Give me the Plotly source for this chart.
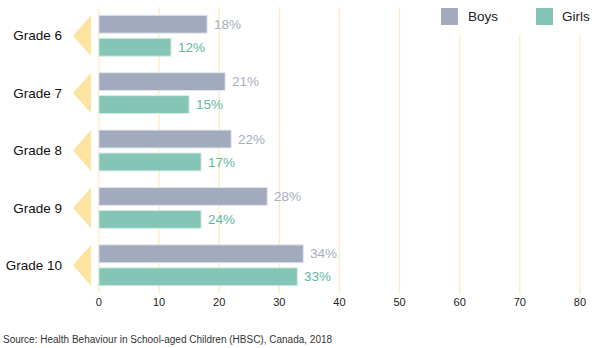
import plotly.graph_objects as go

grades = ["Grade 6", "Grade 7", "Grade 8", "Grade 9", "Grade 10"]
boys = [18, 21, 22, 28, 34]
girls = [12, 15, 17, 17, 33]
boys_labels = ["18%", "21%", "22%", "28%", "34%"]
girls_labels = ["12%", "15%", "17%", "24%", "33%"]
x_ticks = [0, 10, 20, 30, 40, 50, 60, 70, 80]
source = "Source: Health Behaviour in School-aged Children (HBSC), Canada, 2018"

BOYS_C = "#a2aabd"
GIRLS_C = "#84c5b5"
BOYS_T = "#a6adc0"
GIRLS_T = "#5db99f"
GRID_C = "#fcecbf"
TRI_C = "#fde3a0"
FONT = "Liberation Sans, Arial, sans-serif"

fig = go.Figure()
fig.add_trace(go.Bar(
    y=grades, x=boys, orientation="h", name="Boys",
    marker=dict(color=BOYS_C, line=dict(color="#e4e7ee", width=1)),
))
fig.add_trace(go.Bar(
    y=grades, x=girls, orientation="h", name="Girls",
    marker=dict(color=GIRLS_C, line=dict(color="#d6ede7", width=1)),
))

L, R, T, B = 98, 18, 7, 54
pw = 600 - L - R
ph = 348 - T - B

def px_x(p):
    return (p - L) / pw

def px_y(p):
    return 1 - (p - T) / ph

shapes = []
# vertical gridlines at the tick values
for v in x_ticks:
    shapes.append(dict(type="line", xref="x", yref="paper",
                       x0=v, x1=v, y0=0, y1=1,
                       line=dict(color=GRID_C, width=1.3), layer="below"))
# legend background covering gridlines
shapes.append(dict(type="rect", xref="paper", yref="paper",
                   x0=px_x(425), x1=px_x(600), y0=px_y(35), y1=px_y(0),
                   fillcolor="white", line=dict(width=0), layer="above"))
# left-pointing triangles beside each grade
tip = px_x(73)
base = px_x(91)
half = 0.355
for i, g in enumerate(grades):
    shapes.append(dict(
        type="path", xref="paper", yref="y",
        path=f"M {base} {i - half} L {base} {i + half} L {tip} {i} Z",
        fillcolor=TRI_C, line=dict(width=0), layer="above",
    ))
# legend swatches
shapes.append(dict(type="rect", xref="paper", yref="paper",
                   x0=px_x(441), x1=px_x(458), y0=px_y(25), y1=px_y(8),
                   fillcolor=BOYS_C, line=dict(width=0), layer="above"))
shapes.append(dict(type="rect", xref="paper", yref="paper",
                   x0=px_x(536), x1=px_x(553), y0=px_y(25), y1=px_y(8),
                   fillcolor=GIRLS_C, line=dict(width=0), layer="above"))

annotations = []
for g, v, t in zip(grades, boys, boys_labels):
    annotations.append(dict(text=t, x=v, y=g, xref="x", yref="y",
                            xanchor="left", yanchor="middle", xshift=5, yshift=11.5,
                            showarrow=False,
                            font=dict(size=13.5, color=BOYS_T, family=FONT)))
for g, v, t in zip(grades, girls, girls_labels):
    annotations.append(dict(text=t, x=v, y=g, xref="x", yref="y",
                            xanchor="left", yanchor="middle", xshift=5, yshift=-11.5,
                            showarrow=False,
                            font=dict(size=13.5, color=GIRLS_T, family=FONT)))
annotations += [
    dict(text="Boys", xref="paper", yref="paper", x=px_x(466), y=px_y(16.5),
         xanchor="left", yanchor="middle", showarrow=False,
         font=dict(size=13.5, color="#222", family=FONT)),
    dict(text="Girls", xref="paper", yref="paper", x=px_x(560), y=px_y(16.5),
         xanchor="left", yanchor="middle", showarrow=False,
         font=dict(size=13.5, color="#222", family=FONT)),
    dict(text=source, xref="paper", yref="paper", x=px_x(1), y=px_y(339),
         xanchor="left", yanchor="middle", showarrow=False,
         font=dict(size=10, color="#333", family=FONT)),
]

fig.update_layout(
    width=600, height=348,
    margin=dict(l=L, r=R, t=T, b=B),
    paper_bgcolor="white", plot_bgcolor="white",
    barmode="group", bargap=0.2, bargroupgap=0.22,
    showlegend=False,
    font=dict(family=FONT, color="#222"),
    shapes=shapes, annotations=annotations,
    xaxis=dict(range=[-0.15, 80.35], tickvals=x_ticks, automargin=False,
               showgrid=False, zeroline=False, showline=False, ticks="",
               tickfont=dict(size=11, color="#222", family=FONT)),
    yaxis=dict(autorange="reversed", showgrid=False, zeroline=False,
               showline=False, ticks="", ticklabelstandoff=35, automargin=False,
               tickfont=dict(size=13.5, color="#111", family=FONT)),
)

fig.write_html("out.html")
